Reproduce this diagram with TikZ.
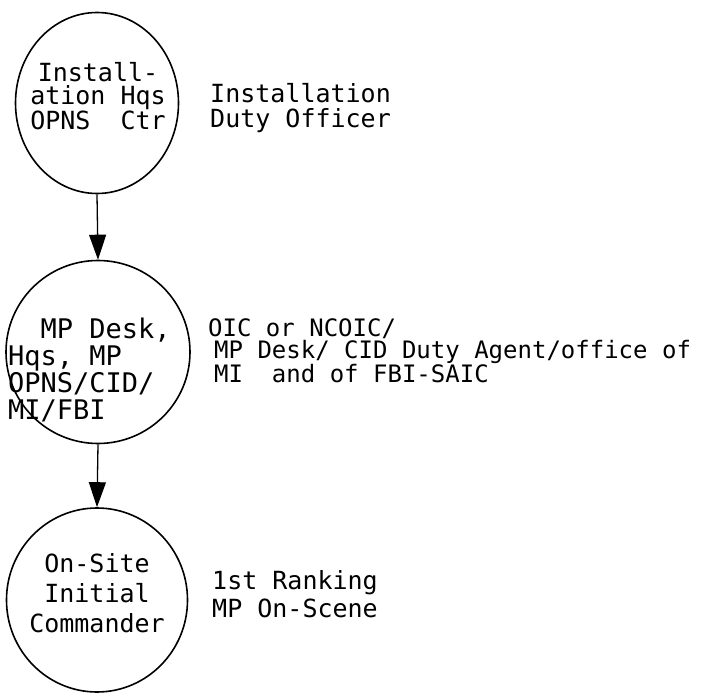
\documentclass[tikz,border=0pt]{standalone}
\usepackage{fontspec}
\setmonofont{DejaVu Sans Mono}
\usetikzlibrary{arrows.meta}
\usetikzlibrary{shapes.geometric}

\begin{document}
\begin{tikzpicture} [x=1pt, y=-1pt,
  stage/.style={draw, black, line width=1.6pt, ellipse, inner sep=0pt},
  stagetext/.style={anchor=north, inner sep=0pt, align=center,
    font=\ttfamily\fontsize{25}{#1}\selectfont},
  duty/.style={anchor=north west, inner sep=0pt, align=left,
    font=\ttfamily\fontsize{25}{#1}\selectfont},
  flow/.style={black, line width=1.3pt, -{Triangle[length=25pt,width=17pt]}}]
\useasboundingbox (0,0) rectangle (718,693);
% the three circles
\node[stage, minimum width=163pt, minimum height=181pt] (hq) at (97,103) {};
\node[stage, minimum width=184pt, minimum height=183pt] (desk) at (98,352) {};
\node[stage, minimum width=181pt, minimum height=184pt] (site) at (97,600) {};
\node[stagetext=23] (hqtext) at (98,62) {Install-\\ation Hqs\\OPNS\ \ Ctr};
\node[stagetext=27, anchor=north west, align=left, font=\ttfamily\fontsize{27}{27}\selectfont]
  (desktext) at (8,318) {\ \ MP Desk,\\Hqs, MP\\OPNS/CID/\\MI/FBI};
\node[stagetext=30] (sitetext) at (97,553) {On-Site\\Initial\\Commander};
% who is in charge
\node[duty=25] (hqduty) at (210,83) {Installation\\Duty Officer};
\node[duty=22, font=\ttfamily\fontsize{24}{22}\selectfont] (deskduty) at (214,318)
  {\hspace*{-6pt}OIC or NCOIC/\\MP Desk/ CID Duty Agent/office of\\MI\ \ and of FBI-SAIC};
\node[duty=28] (siteduty) at (212,570) {1st Ranking\\MP On-Scene};
\draw[flow] (hq.south) -- (desk.north);
\draw[flow] (desk.south) -- (site.north);
\end{tikzpicture}
\end{document}
